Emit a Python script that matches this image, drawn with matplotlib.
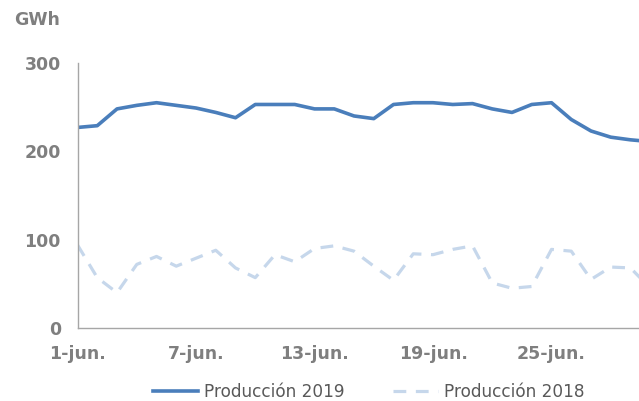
import matplotlib.pyplot as plt
from matplotlib.lines import Line2D

# datos diarios de junio (GWh)
dias = list(range(1, 31))
prod_2019 = [227, 229, 248, 252, 255, 252, 249, 244, 238, 253, 253, 253, 248, 248,
             240, 237, 253, 255, 255, 253, 254, 248, 244, 253, 255, 236, 223, 216, 213, 211]
prod_2018 = [94, 57, 40, 72, 81, 70, 79, 88, 68, 57, 83, 75, 90, 93,
             87, 70, 54, 84, 83, 89, 93, 51, 45, 47, 89, 87, 55, 69, 68, 45]
etiquetas_x = ['1-jun.', '7-jun.', '13-jun.', '19-jun.', '25-jun.']
ticks_x = [1, 7, 13, 19, 25]
ticks_y = [0, 100, 200, 300]

gris = '#7f7f7f'
azul = '#4a7ebb'
azul_claro = '#c6d7eb'
guion = (0, (4, 3))

fig = plt.figure(figsize=(6.39, 4.01), dpi=100)
ax = fig.add_axes([0.1213, 0.182, 0.8787, 0.661])

ax.plot(dias, prod_2018, color=azul_claro, lw=2.3, linestyle=guion,
        dash_capstyle='butt', dash_joinstyle='round')
ax.plot(dias, prod_2019, color=azul, lw=2.6, solid_joinstyle='round',
        solid_capstyle='round')

ax.set_xlim(1, 29.43)
ax.set_ylim(0, 300)
ax.set_xticks(ticks_x)
ax.set_xticklabels(etiquetas_x)
ax.set_yticks(ticks_y)
ax.tick_params(length=0, colors=gris, labelsize=12.5, pad=12)
for lab in ax.get_xticklabels() + ax.get_yticklabels():
    lab.set_fontweight('bold')
    lab.set_color(gris)

for s in ['top', 'right']:
    ax.spines[s].set_visible(False)
for s in ['left', 'bottom']:
    ax.spines[s].set_color('#a6a6a6')
    ax.spines[s].set_linewidth(1.0)

fig.text(14 / 639, 1 - 20 / 401, 'GWh', fontsize=12.5, fontweight='bold', color=gris,
         ha='left', va='center')

handles = [Line2D([], [], color=azul, lw=2.6),
           Line2D([], [], color=azul_claro, lw=2.3, linestyle=guion)]
fig.legend(handles, ['Producción 2019', 'Producción 2018'], loc='center',
           bbox_to_anchor=(0.577, 0.022), ncol=2, frameon=False, fontsize=12.2,
           handlelength=2.65, handletextpad=0.35, columnspacing=2.9, labelcolor='#595959')

fig.savefig('out.png', dpi=100)
